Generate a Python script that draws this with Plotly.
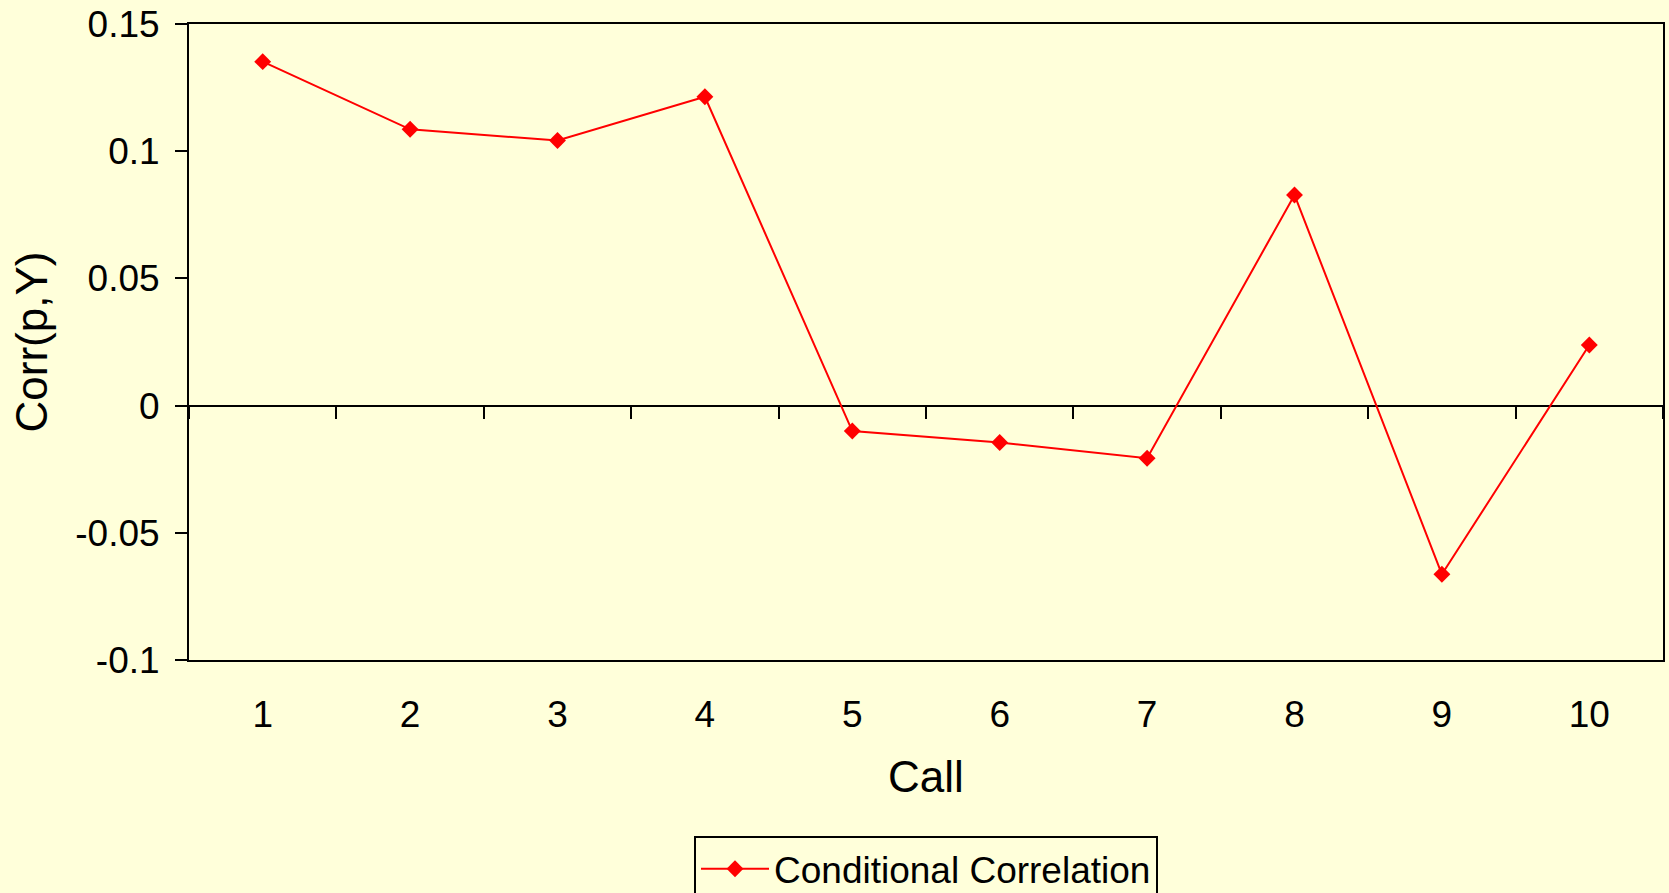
import plotly.graph_objects as go

# Conditional correlation of p and Y for each call
calls = [1, 2, 3, 4, 5, 6, 7, 8, 9, 10]
corr = [0.1352, 0.1086, 0.1042, 0.1214, -0.0100, -0.0145, -0.0207, 0.0828, -0.0663, 0.0238]

y_ticks = [-0.1, -0.05, 0, 0.05, 0.1, 0.15]
y_tick_text = ["-0.1", "-0.05", "0", "0.05", "0.1", "0.15"]
series_name = "Conditional Correlation"

BG = "#FFFFDA"
FONT = "Liberation Sans, Arial, sans-serif"

fig = go.Figure()

fig.add_trace(go.Scatter(
    x=calls, y=corr, mode="lines+markers", name=series_name,
    line=dict(color="#FF0000", width=2),
    marker=dict(symbol="diamond", size=13, color="#FF0000"),
))

# invisible trace so the category-divider axis on the zero line is rendered
fig.add_trace(go.Scatter(x=[None], y=[None], xaxis="x2", showlegend=False,
                         hoverinfo="skip"))

fig.update_layout(
    width=1669, height=893,
    margin=dict(l=189, r=6, t=24, b=233, autoexpand=False),
    paper_bgcolor=BG, plot_bgcolor=BG,
    font=dict(family=FONT, size=37, color="black"),
    showlegend=True,
    legend=dict(
        x=0.5, xanchor="center", xref="paper",
        y=-0.277, yanchor="top",
        bgcolor=BG, bordercolor="black", borderwidth=2,
        font=dict(size=37), itemwidth=68,
    ),
    xaxis=dict(
        range=[0.5, 10.5], tickmode="array", tickvals=calls,
        ticktext=[str(c) for c in calls],
        showgrid=False, zeroline=False,
        showline=True, linecolor="black", linewidth=2, mirror=True,
        ticks="", ticklabelstandoff=21, automargin=False,
        title=dict(text="Call", standoff=27),
    ),
    xaxis2=dict(
        overlaying="x", anchor="free", position=0.4,
        range=[0.5, 10.5], tickmode="array",
        tickvals=[c + 0.5 for c in [0] + calls],
        showticklabels=False, showgrid=False, zeroline=False,
        showline=False, ticks="outside", ticklen=12, tickwidth=2,
        tickcolor="black", automargin=False,
    ),
    yaxis=dict(
        range=[-0.1, 0.15], tickmode="array", tickvals=y_ticks,
        ticktext=y_tick_text,
        showgrid=False,
        zeroline=True, zerolinecolor="black", zerolinewidth=2,
        showline=True, linecolor="black", linewidth=2, mirror=True,
        ticks="outside", ticklen=12, tickwidth=2, tickcolor="black",
        ticklabelstandoff=8, automargin=False,
        title=dict(text="Corr(p,Y)", standoff=14),
    ),
)

fig.write_html("out.html")
